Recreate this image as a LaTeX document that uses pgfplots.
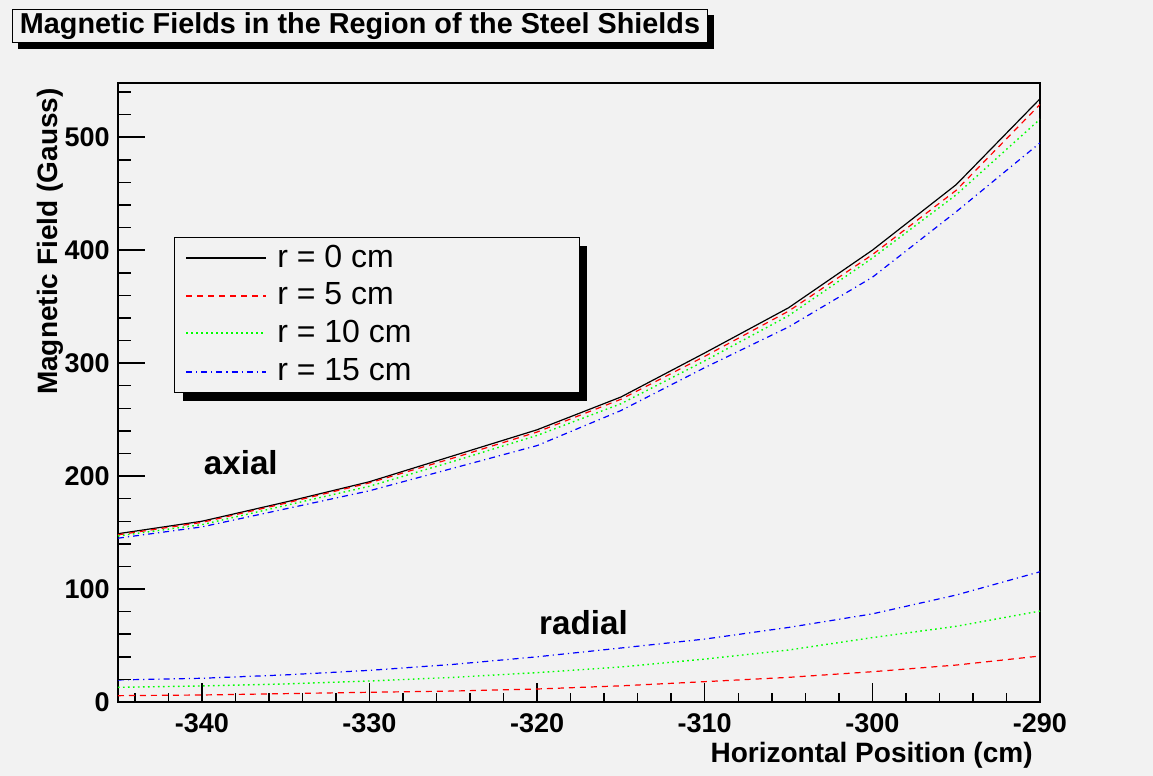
\documentclass[border=0pt]{standalone}
\usepackage{fontspec}
\setmainfont{Liberation Sans}
\usepackage{pgfplots}
\usepackage{pgfplotstable}
\pgfplotsset{compat=1.18}
\usetikzlibrary{shadows}

\definecolor{canvasgray}{RGB}{242,242,242}
\definecolor{rootred}{RGB}{255,0,0}
\definecolor{rootgreen}{RGB}{0,255,0}
\definecolor{rootblue}{RGB}{0,0,255}

% axial field component (Gauss) versus horizontal position (cm)
\pgfplotstableread{
x     r0    r5    r10   r15
-345  149   148   147   145
-340  160   159   157   155
-335  177   176   174   171
-330  195   194   191   187
-325  218   216   213   207
-320  241   239   236   227
-315  270   268   264   258
-310  309   306   302   296
-305  349   346   342   332
-300  400   396   393   376
-295  458   453   449   434
-290  534   529   516   495
}\axialdata

% radial field component (Gauss)
\pgfplotstableread{
x     r5    r10   r15
-345  5.6   13.0  19.5
-340  6.2   14.2  21.0
-335  7.4   16.0  24.0
-330  8.6   18.6  28.0
-325  9.7   21.8  33.3
-320  11.5  26.0  40.0
-315  14.3  31.0  47.8
-310  18.0  38.0  55.7
-305  21.8  46.0  66.0
-300  26.8  57.0  78.0
-295  32.7  67.0  94.7
-290  40.7  80.5  115.3
}\radialdata

\tikzset{
  rzero/.style={draw=black, line width=0.6pt},
  rfive/.style={draw=rootred, line width=0.6pt, dash pattern=on 3pt off 2.5pt},
  rten/.style={draw=rootgreen, line width=0.7pt, dash pattern=on 0.8pt off 1.7pt},
  rfifteen/.style={draw=rootblue, line width=0.6pt, dash pattern=on 3pt off 2pt on 0.6pt off 2pt},
  keytext/.style={anchor=base west, font=\fontsize{16}{19}\selectfont, inner sep=0pt},
}

\pgfplotsset{
  frame/.style={
    scale only axis, width=461pt, height=309.5pt,
    at={(0,0)}, anchor=south west,
    xmin=-345, xmax=-290, ymin=0, ymax=548,
    tick align=inside,
    every tick/.style={black, line width=0.75pt},
  },
}

\begin{document}
\begin{tikzpicture}
% canvas
\path[use as bounding box, fill=canvasgray] (-59pt,-37pt) rectangle (517.5pt,351pt);

\begin{axis}[
  frame,
  axis line style={line width=1pt},
  xtick pos=left,
  ytick=\empty,
  xtick={-340,-330,-320,-310,-300,-290},
  xticklabels={-340,-330,-320,-310,-300,-290},
  minor xtick={-344,-342,...,-292},
  major tick length=9.5pt, minor tick length=4.5pt,
  xticklabel style={font=\bfseries\fontsize{13.5}{16}\selectfont, inner sep=0pt, yshift=-5.5pt},
  xlabel={Horizontal Position (cm)},
  xlabel style={at={([xshift=-3.5pt,yshift=-30.5pt]rel axis cs:1,0)}, anchor=base east,
    font=\bfseries\fontsize{14}{16}\selectfont, inner sep=0pt},
  ylabel={Magnetic Field (Gauss)},
  ylabel style={at={([xshift=-30pt,yshift=-2.5pt]rel axis cs:0,1)}, anchor=base east,
    font=\bfseries\fontsize{14}{16}\selectfont, inner sep=0pt},
  title={Magnetic Fields in the Region of the Steel Shields},
  title style={at={(rel axis cs:0,1)}, anchor=north west, xshift=-53pt, yshift=31pt,
    draw=black, line width=0.5pt, fill=canvasgray,
    general shadow={fill=black, shadow xshift=3pt, shadow yshift=-3pt},
    font=\bfseries\fontsize{14.4}{16}\selectfont, inner sep=0pt,
    minimum width=347.5pt, minimum height=16.5pt},
]
\addplot[rzero] table[x=x, y=r0] {\axialdata};
\addplot[rfive] table[x=x, y=r5] {\axialdata};
\addplot[rten] table[x=x, y=r10] {\axialdata};
\addplot[rfifteen] table[x=x, y=r15] {\axialdata};

\addplot[rfive] table[x=x, y=r5] {\radialdata};
\addplot[rten] table[x=x, y=r10] {\radialdata};
\addplot[rfifteen] table[x=x, y=r15] {\radialdata};

\node[anchor=base west, font=\bfseries\fontsize{16.6}{18}\selectfont, inner sep=0pt]
  at (axis cs:-339.9,201) {axial};
\node[anchor=base west, font=\bfseries\fontsize{16.6}{18}\selectfont, inner sep=0pt]
  at (axis cs:-319.9,60) {radial};

% legend box with drop shadow, line keys and labels
\fill[black] (rel axis cs:0.0705,0.7367) rectangle (rel axis cs:0.5087,0.4863);
\filldraw[fill=canvasgray, draw=black, line width=0.5pt]
  (rel axis cs:0.0618,0.7496) rectangle (rel axis cs:0.5,0.4992);
\draw[rzero]    (axis cs:-340.94,393.1) -- (axis cs:-336.17,393.1);
\draw[rfive]    (axis cs:-340.94,359.4) -- (axis cs:-336.17,359.4);
\draw[rten]     (axis cs:-340.94,326.7) -- (axis cs:-336.17,326.7);
\draw[rfifteen] (axis cs:-340.94,292.1) -- (axis cs:-336.17,292.1);
\node[keytext] at (axis cs:-335.52,385.1) {r = 0 cm};
\node[keytext] at (axis cs:-335.52,351.5) {r = 5 cm};
\node[keytext] at (axis cs:-335.52,318.7) {r = 10 cm};
\node[keytext] at (axis cs:-335.52,284.2) {r = 15 cm};
\end{axis}

% y ticks, longer than the x ticks
\begin{axis}[
  frame,
  axis line style={draw=none},
  xtick=\empty,
  ytick pos=left,
  ytick={0,100,200,300,400,500},
  yticklabels={0,100,200,300,400,500},
  minor ytick={20,40,...,540},
  major tick length=13.5pt, minor tick length=6.7pt,
  yticklabel style={font=\bfseries\fontsize{13.5}{16}\selectfont, inner sep=0pt, xshift=-4pt},
]
\end{axis}
\end{tikzpicture}
\end{document}
